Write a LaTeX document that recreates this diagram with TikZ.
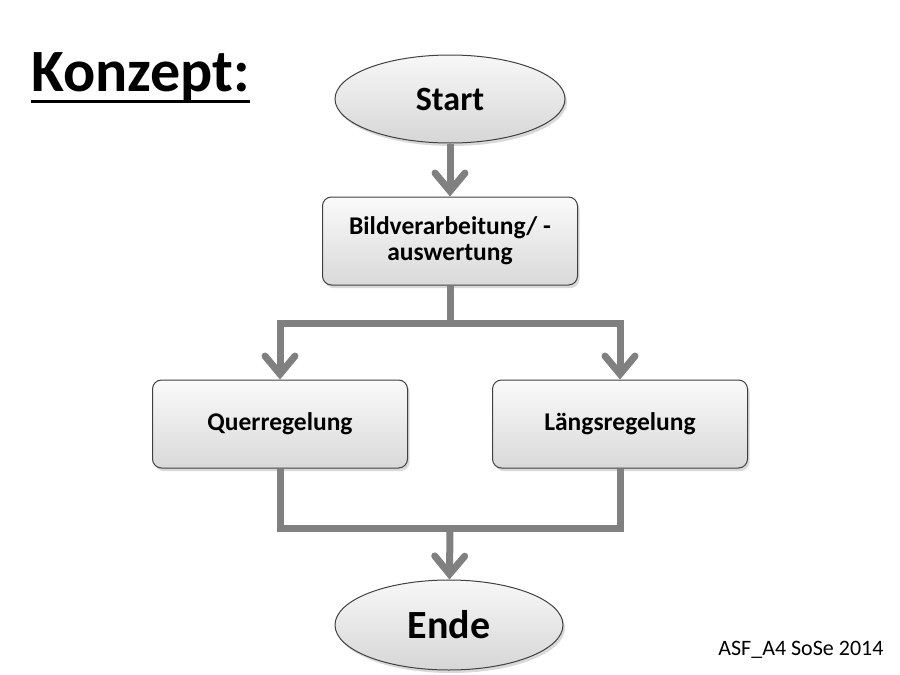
\documentclass[tikz,border=0pt]{standalone}
\usepackage{fontspec}
\setmainfont{Carlito}
\usetikzlibrary{arrows.meta,shadows,shapes.geometric}
\definecolor{flowgrey}{RGB}{128,128,128}
\definecolor{edgegrey}{RGB}{64,64,64}
\tikzstyle{shadowed}=[drop shadow={shadow xshift=2pt, shadow yshift=-3pt, opacity=0.15, fill=black}]
\tikzstyle{terminal}=[ellipse, draw=edgegrey, line width=1pt, shadowed,
                      top color=gray!6, bottom color=gray!32,
                      minimum width=230pt, minimum height=88pt, inner sep=0,
                      font=\bfseries\fontsize{34}{40}\selectfont]
\tikzstyle{process}=[rectangle, rounded corners=9pt, draw=edgegrey, line width=1pt, shadowed,
                     top color=gray!4, bottom color=gray!30,
                     minimum width=255pt, minimum height=88pt, inner sep=0, align=center,
                     font=\bfseries\fontsize{25.5}{26}\selectfont]
\tikzstyle{flow}=[draw=flowgrey, line width=7pt]
\tikzstyle{flowarrow}=[flow, -{Straight Barb[length=18pt, width=30pt, line cap=round]}]

\begin{document}
\begin{tikzpicture}[x=1pt, y=-1pt]
    \useasboundingbox (0, 0) rectangle (900, 675);
    \node[anchor=base west, inner sep=0, font=\bfseries\fontsize{60}{66}\selectfont] (title) at (31, 91) {Konzept:};
    \draw[line width=3pt] ([yshift=-10.5pt]title.base west) -- ([yshift=-10.5pt]title.base east);
    \node[terminal] (start) at (450, 99) {Start};
    \node[process] (bild) at (450, 241) {Bildverarbeitung/ -\\auswertung};
    \node[process] (quer) at (280, 424) {Querregelung};
    \node[process] (laengs) at (620, 424) {Längsregelung};
    \node[terminal, minimum width=228pt, minimum height=90pt, font=\bfseries\fontsize{40}{44}\selectfont] (ende) at (449, 625) {Ende};
    \node[anchor=base east, font=\fontsize{22}{24}\selectfont] (footer) at (887, 655) {ASF\_A4 SoSe 2014};
    \coordinate (split) at (450, 323);
    \coordinate (merge) at (450, 528);
    \draw[flowarrow] (start) -- (bild);
    \draw[flow] (bild) -- (split);
    \draw[flowarrow] (split) -| (quer);
    \draw[flowarrow] (split) -| (laengs);
    \draw[flow] (quer) |- (merge);
    \draw[flow] (laengs) |- (merge);
    \draw[flowarrow] (merge) -- (ende);
\end{tikzpicture}
\end{document}
